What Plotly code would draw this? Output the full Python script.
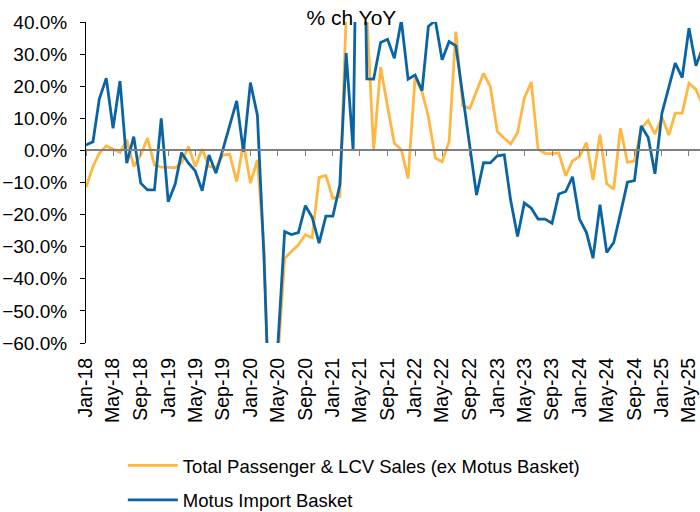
import plotly.graph_objects as go
import pandas as pd

# monthly YoY % change, Jan-18 .. Jul-25
months = pd.date_range("2018-01-01", periods=91, freq="MS")

total_sales = [
    -11.5, -5.0, -0.9, 1.4, 0.4, -0.6, 3.3, -5.0, -1.4, 3.8, -4.5, -5.2,
    -5.3, -5.4, -3.8, 1.2, -5.0, 0.4, -5.0, -5.4, -1.4, -1.2, -9.7, 2.2,
    -10.2, -3.0, -30.0, -98.0, -66.0, -33.6, -31.5, -29.4, -26.3, -27.2, -8.4, -7.8,
    -14.9, -14.4, 42.0, 400.0, 160.0, 42.0, 0.0, 26.0, 13.6, 2.2, 0.2, -8.7,
    22.5, 18.3, 10.5, -2.4, -3.5, 2.7, 37.0, 13.9, 13.1, 18.3, 24.0, 19.9,
    5.9, 3.8, 2.0, 5.5, 16.3, 21.3, 0.4, -0.9, -1.0, -0.8, -7.9, -3.3,
    -1.9, 2.4, -9.2, 5.0, -10.4, -12.1, 6.9, -3.7, -3.3, 6.9, 9.3, 5.1,
    10.3, 4.8, 11.6, 11.6, 20.9, 19.0, 14.0,
]

motus_basket = [
    1.7, 2.7, 16.0, 22.5, 6.9, 21.6, -4.0, 4.3, -10.2, -12.3, -12.3, 10.0,
    -16.0, -10.5, -0.7, -4.0, -6.4, -12.6, -1.4, -7.1, 0.3, 8.0, 15.4, -0.4,
    21.1, 11.0, -33.0, -97.0, -63.0, -25.3, -26.2, -25.6, -17.2, -20.8, -28.9, -20.5,
    -20.5, -10.7, 30.3, 0.0, 150.0, 22.3, 22.2, 33.6, 34.6, 28.7, 40.5, 22.2,
    23.5, 18.6, 38.6, 40.5, 28.2, 33.9, 32.6, 17.0, 1.0, -13.9, -3.8, -3.9,
    -1.7, -1.4, -15.4, -26.8, -16.4, -18.0, -21.4, -21.4, -22.7, -13.6, -12.8, -8.2,
    -21.4, -25.6, -33.6, -16.9, -31.8, -28.7, -19.6, -9.9, -9.4, 7.6, 4.0, -7.3,
    11.6, 19.4, 27.2, 22.7, 38.1, 26.4, 32.0,
]

font = "Arial, Liberation Sans, sans-serif"
x_range = ["2018-01-01", "2025-06-19"]

fig = go.Figure()

fig.add_trace(go.Scatter(
    x=months, y=total_sales, mode="lines",
    name="Total Passenger & LCV Sales (ex Motus Basket)",
    line=dict(color="#FFB743", width=2.8), legend="legend"))

fig.add_trace(go.Scatter(
    x=months, y=motus_basket, mode="lines",
    name="Motus Import Basket",
    line=dict(color="#0A64A4", width=2.8), legend="legend2"))

# dummy trace so the zero-line axis exists
fig.add_trace(go.Scatter(x=[months[0]], y=[0], xaxis="x2", mode="lines",
                         showlegend=False, hoverinfo="skip", line=dict(width=0)))

fig.update_layout(
    width=700, height=512,
    margin=dict(l=86, r=0, t=22, b=169, autoexpand=False),
    paper_bgcolor="white", plot_bgcolor="white",
    font=dict(family=font, size=18, color="black"),
    title=dict(text="% ch YoY", x=0.502, y=0.966, xanchor="center", yanchor="middle",
               font=dict(family=font, size=21, color="black")),
    xaxis=dict(type="date", range=x_range, dtick="M4", tick0="2018-01-01",
               tickformat="%b-%y", tickangle=-90, showgrid=False, showline=False,
               ticks="", ticklabelstandoff=10, zeroline=False, automargin=False,
               tickfont=dict(size=19.5)),
    xaxis2=dict(type="date", range=x_range, dtick="M4", tick0="2018-01-01",
                overlaying="x", anchor="free", position=0.6, side="bottom",
                showline=True, linecolor="#7F7F7F", linewidth=1.5,
                ticks="outside", ticklen=5, tickcolor="#7F7F7F",
                showticklabels=False, showgrid=False, zeroline=False),
    yaxis=dict(range=[-60, 40], dtick=10, tickformat=".1f", ticksuffix="%",
               showgrid=False, zeroline=False, showline=True, linecolor="black",
               linewidth=1, ticks="outside", ticklen=5, tickcolor="black",
               ticklabelstandoff=9, automargin=False, tickfont=dict(size=19)),
    legend=dict(x=0.06, y=-0.383, xanchor="left", yanchor="middle",
                bgcolor="rgba(0,0,0,0)", font=dict(size=18.5), itemwidth=50),
    legend2=dict(x=0.06, y=-0.49, xanchor="left", yanchor="middle",
                 bgcolor="rgba(0,0,0,0)", font=dict(size=18.5), itemwidth=50),
)

# drop the page's default body margin so the figure sits at the top-left corner
fig.write_html("out.html", config={"displayModeBar": False},
               post_script="document.body.style.margin='0';")
